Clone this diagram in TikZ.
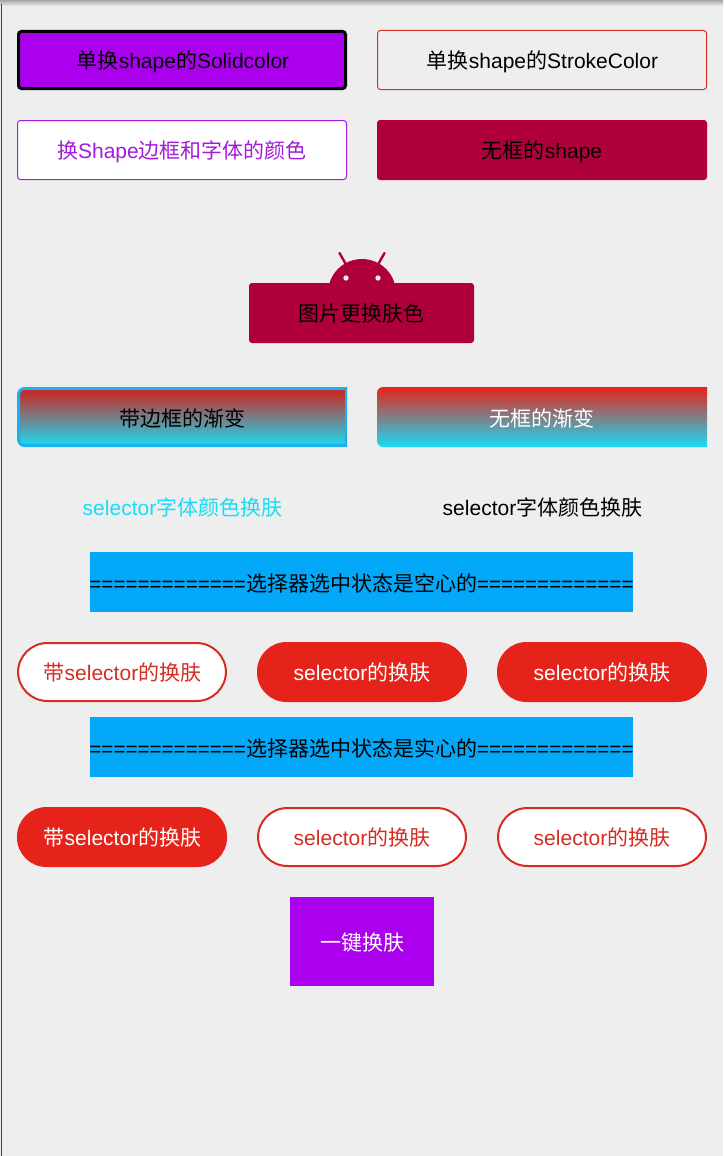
\documentclass[tikz,border=0pt]{standalone}
\usepackage{graphicx}
\usepackage{fontspec}
\setmainfont{Liberation Sans}
\newfontfamily\cjk{Noto Sans CJK SC}
\newcommand{\zh}[1]{{\cjk #1}}
\newcommand{\eqs}{\scalebox{0.982}[1]{=============}}
\definecolor{bgc}{HTML}{EEEEEE}
\definecolor{purp}{HTML}{AA00EE}
\definecolor{purpline}{HTML}{A31CD8}
\definecolor{crim}{HTML}{B0003A}
\definecolor{redc}{HTML}{E6231A}
\definecolor{redline}{HTML}{D42E22}
\definecolor{cyanc}{HTML}{18DCF5}
\definecolor{bluec}{HTML}{03A9F8}
\definecolor{bordb}{HTML}{1CB0EE}
\tikzset{
  x=1pt,y=-1pt,
  lbl/.style={font=\fontsize{21}{25}\selectfont,inner sep=0pt,text=black},
  rr/.style={rounded corners=3pt},
  pill/.style={rounded corners=29.5pt},
}
\begin{document}
\begin{tikzpicture}
\useasboundingbox (0,0) rectangle (723,1156);
\fill[bgc] (0,0) rectangle (723,1156);
\shade[top color=black!35,bottom color=bgc] (0,0) rectangle (723,6);
\draw[black!75,line width=1.5pt] (1.5,4) -- (1.5,1156);

% row 1
\draw[rr,fill=purp,draw=black,line width=3pt] (18.5,31.5) rectangle (345.5,88.5);
\node[lbl] (a) at (183,62) {\zh{单换}shape\zh{的}Solidcolor};
\draw[rr,draw=redline,line width=1pt] (377.5,30.5) rectangle (706.5,89.5);
\node[lbl] (b) at (542.5,62) {\zh{单换}shape\zh{的}StrokeColor};
% row 2
\draw[rr,fill=white,draw=purpline,line width=1pt] (17.5,120.5) rectangle (346.5,179.5);
\node[lbl,text=purpline] (c) at (182,152) {\zh{换}Shape\zh{边框和字体的颜色}};
\fill[rr,crim] (377,120) rectangle (707,180);
\node[lbl] (d) at (542,152) {\zh{无框的}shape};
% android image button
\begin{scope}
\clip (320,250) rectangle (405,285);
\fill[crim] (362,293) circle[radius=34];
\end{scope}
\draw[crim,line width=2.4pt,line cap=round] (339.5,253) -- (346,264.5);
\draw[crim,line width=2.4pt,line cap=round] (384.5,253) -- (378,264.5);
\fill[bgc] (346,278) circle[radius=2.7];
\fill[bgc] (378,278) circle[radius=2.7];
\fill[rr,crim] (249,283) rectangle (474,343);
\node[lbl] (e) at (361.5,313.5) {\zh{图片更换肤色}};
% gradients
\begin{scope}
\clip (17,387) rectangle (347,447);
\shade[rounded corners=6pt,top color=redc!92!black,bottom color=cyanc] (18,388) rectangle (360,446);
\draw[rounded corners=6pt,draw=bordb,line width=3pt] (18.5,388.5) rectangle (360,445.5);
\draw[bordb,line width=2pt] (346,388) -- (346,446);
\end{scope}
\node[lbl] (f) at (182,418) {\zh{带边框的渐变}};
\begin{scope}
\clip (377,387) rectangle (707,447);
\shade[rounded corners=6pt,top color=redc,bottom color=cyanc] (377,387) rectangle (720,447);
\end{scope}
\node[lbl,text=white] (g) at (542,418) {\zh{无框的渐变}};
% selector text
\node[lbl,text=cyanc] (h) at (182.5,507.5) {selector\zh{字体颜色换肤}};
\node[lbl] (i) at (542.5,507.5) {selector\zh{字体颜色换肤}};
% banner 1
\fill[bluec] (90,552) rectangle (633,612);
\node[lbl] (j) at (361.5,583) {\eqs\zh{选择器选中状态是空心的}\eqs};
% pills 1
\draw[pill,fill=white,draw=redline,line width=2pt] (18,643) rectangle (226,701);
\node[lbl,text=redline] (k) at (122.5,672.5) {\zh{带}selector\zh{的换肤}};
\fill[pill,redc] (257,642) rectangle (467,702);
\node[lbl,text=white] (l) at (362,672.5) {selector\zh{的换肤}};
\fill[pill,redc] (497,642) rectangle (707,702);
\node[lbl,text=white] (m) at (602,672.5) {selector\zh{的换肤}};
% banner 2
\fill[bluec] (90,717) rectangle (633,777);
\node[lbl] (n) at (361.5,748) {\eqs\zh{选择器选中状态是实心的}\eqs};
% pills 2
\fill[pill,redc] (17,807) rectangle (227,867);
\node[lbl,text=white] (o) at (122.5,837.5) {\zh{带}selector\zh{的换肤}};
\draw[pill,fill=white,draw=redline,line width=2pt] (258,808) rectangle (466,866);
\node[lbl,text=redline] (p) at (362,837.5) {selector\zh{的换肤}};
\draw[pill,fill=white,draw=redline,line width=2pt] (498,808) rectangle (706,866);
\node[lbl,text=redline] (q) at (602,837.5) {selector\zh{的换肤}};
% one-key button
\fill[purp] (290,897) rectangle (434,986);
\node[lbl,text=white] (r) at (362,942.5) {\zh{一键换肤}};
\end{tikzpicture}
\end{document}
